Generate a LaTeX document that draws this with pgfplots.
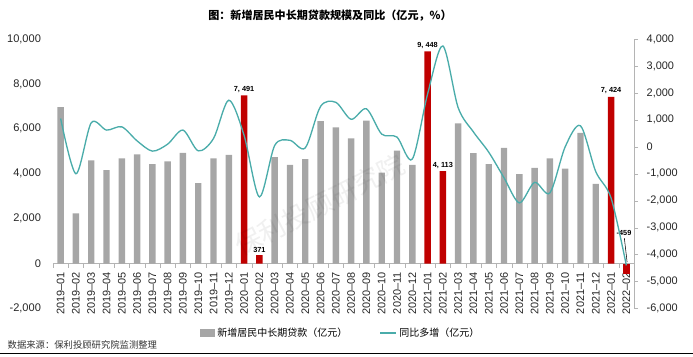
\documentclass[border=0pt]{standalone}
\usepackage{fontspec}
\setmainfont{Liberation Sans}
\newfontfamily\cjk{Noto Sans CJK SC}
\usepackage{pgfplots}
\pgfplotsset{compat=1.18}
\usepackage{pgfplotstable}

\definecolor{bargray}{RGB}{166,166,166}
\definecolor{barred}{RGB}{192,0,0}
\definecolor{lineteal}{RGB}{74,172,170}
\definecolor{axgray}{RGB}{180,180,180}

\pgfplotstableread{
x y
0 6970
1 2230
2 4590
3 4160
4 4680
5 4860
6 4430
7 4550
8 4930
9 3580
10 4680
11 4840
14 4740
15 4400
16 4650
17 6340
18 6060
19 5570
20 6370
21 4050
22 5030
23 4400
26 6240
27 4920
28 4430
29 5150
30 3980
31 4260
32 4680
33 4230
34 5820
35 3550
}\graybars

\pgfplotstableread{
x y
12 7491
13 371
24 9448
25 4113
36 7424
}\redbars

\pgfplotstableread{
x y
37 -459
}\rednegbar

\pgfplotstableread{
x y
0 1050
1 -1000
2 890
3 620
4 740
5 220
6 -160
7 100
8 620
9 -150
10 310
11 1730
12 420
13 -1860
14 50
15 240
16 -40
17 1500
18 1650
19 1020
20 1410
21 470
22 360
23 -455
24 1960
25 3740
26 1450
27 550
28 -200
29 -1150
30 -2080
31 -1320
32 -1710
33 0
34 780
35 -920
36 -1900
37 -4400
}\yoy

\begin{document}
\begin{tikzpicture}
\path[use as bounding box] (-39.75pt,-36.375pt) rectangle (480pt,231.375pt);
\node[font=\cjk\bfseries\fontsize{8.3}{10}\selectfont] at (207.75pt,219.75pt) {图：新增居民中长期贷款规模及同比（亿元，\%）};
\node[anchor=west, font=\cjk\fontsize{7}{8}\selectfont, text=black!80] at (-37.5pt,-27.4pt) {数据来源：保利投顾研究院监测整理};
\draw[line width=0.8pt] (-39.75pt,-34.1pt) -- (480pt,-34.1pt);

\begin{axis}[
  at={(0pt,0pt)}, anchor=south west,
  scale only axis, width=435.75pt, height=202.125pt,
  xmin=-0.5, xmax=37.5, ymin=-2000, ymax=10000,
  axis x line*=middle, axis y line*=left,
  hide obscured y ticks=false, hide obscured x ticks=false,
  scaled y ticks=false,
  y axis line style={draw=none},
  x axis line style={draw=axgray},
  ytick={-2000,0,2000,4000,6000,8000,10000},
  xtick={0,...,37},
  xticklabels={2019--01,2019--02,2019--03,2019--04,2019--05,2019--06,2019--07,2019--08,2019--09,2019--10,2019--11,2019--12,2020--01,2020--02,2020--03,2020--04,2020--05,2020--06,2020--07,2020--08,2020--09,2020--10,2020--11,2020--12,2021--01,2021--02,2021--03,2021--04,2021--05,2021--06,2021--07,2021--08,2021--09,2021--10,2021--11,2021--12,2022--01,2022--02},
  minor xtick={-0.5,0.5,...,37.5},
  major tick length=0pt, minor tick length=3pt,
  minor tick style={axgray},
  tick align=outside,
  xticklabel shift=3pt, yticklabel shift=5.5pt,
  x tick label style={rotate=90, anchor=east, font=\fontsize{8.2}{9}\selectfont, text=black!85},
  y tick label style={font=\fontsize{8.3}{9}\selectfont, text=black!85},
  /pgf/number format/1000 sep={,},
  /pgf/number format/assume math mode=true,
  clip=false,
]
\addplot[ybar, bar width=0.42, bar shift=0pt, fill=bargray, draw=none] table {\graybars};
\addplot[ybar, bar width=0.42, bar shift=0pt, fill=barred, draw=none,
  point meta=y,
  nodes near coords={\pgfmathprintnumber[1000 sep={,\ },assume math mode=true]{\pgfplotspointmeta}},
  every node near coord/.append style={font=\bfseries\fontsize{5.5}{6}\selectfont, text=black, inner sep=2pt}] table {\redbars};
\addplot[ybar, bar width=0.42, bar shift=0pt, fill=barred, draw=none] table {\rednegbar};
\node[font=\bfseries\fontsize{5.5}{6}\selectfont] at (axis cs:36.85,1370) {-459};
\draw[black, line width=0.4pt] (axis cs:36.87,1130) -- (axis cs:37.05,60);
\end{axis}

\begin{axis}[
  at={(0pt,0pt)}, anchor=south west,
  scale only axis, width=435.75pt, height=202.125pt,
  xmin=-0.5, xmax=37.5, ymin=-6000, ymax=4000,
  axis y line*=right, axis x line=none, xtick=\empty,
  scaled y ticks=false,
  y axis line style={draw=axgray},
  ytick={-6000,-5000,...,4000},
  ytick style={draw=axgray},
  major tick length=3pt, tick align=outside,
  yticklabel shift=3pt,
  y tick label style={font=\fontsize{8.2}{9}\selectfont, text=black!85},
  /pgf/number format/1000 sep={,},
  /pgf/number format/assume math mode=true,
  legend style={at={(0.496,-0.091)}, anchor=center, draw=none, fill=none,
    font=\cjk\fontsize{7.5}{9}\selectfont, inner sep=0pt,
    /tikz/every even column/.append style={column sep=22pt}},
  legend columns=2, legend cell align=left,
]
\addlegendimage{legend image code/.code={\fill[bargray] (0pt,-2.5pt) rectangle (10.5pt,2.5pt);}}
\addlegendentry{新增居民中长期贷款（亿元）}
\addplot[lineteal, line width=1pt, smooth, tension=0.5,
  legend image code/.code={\draw[lineteal, line width=1pt] (0pt,0pt) -- (12pt,0pt);}] table {\yoy};
\addlegendentry{同比多增（亿元）}
\end{axis}
\node[rotate=27, font=\cjk\fontsize{20}{20}\selectfont, text=black, opacity=0.06] at (200pt,77.6pt) {保利投顾研究院};
\end{tikzpicture}
\end{document}
